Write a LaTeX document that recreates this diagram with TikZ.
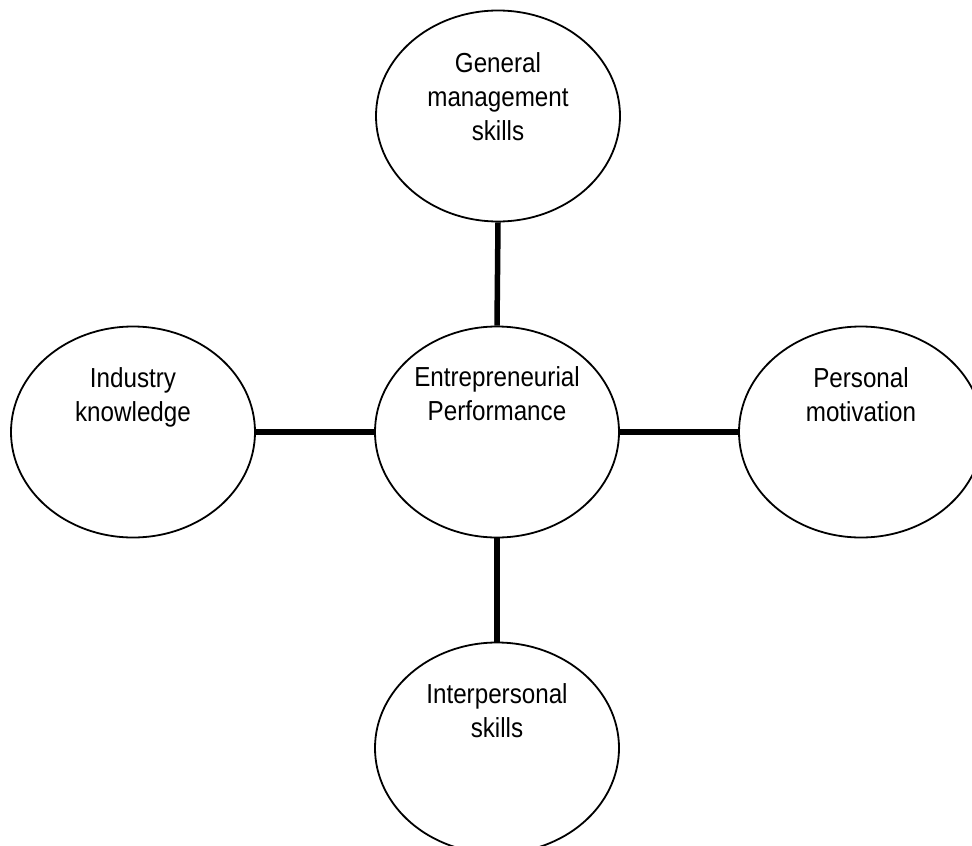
\documentclass[tikz,border=0pt]{standalone}
\usepackage{fontspec}
\setmainfont{Liberation Sans}[FakeStretch=0.88]
\usetikzlibrary{shapes.geometric}
\begin{document}
\begin{tikzpicture}[x=1pt,y=-1pt,
  bubble/.style={ellipse, draw, line width=1.8pt, minimum width=244pt, minimum height=211pt, inner sep=0pt},
  lbl/.style={anchor=north, align=center, inner sep=0pt, font=\fontsize{27.5}{34}\selectfont},
  link/.style={line width=5.5pt}]
\useasboundingbox (0,0) rectangle (972,846);
\node[bubble] (top) at (498,116) {};
\node[bubble] (ctr) at (497,432) {};
\node[bubble] (lft) at (133,432) {};
\node[bubble] (rgt) at (861,432) {};
\node[bubble] (bot) at (497,748) {};
\node[lbl] (topT) at (498,52) {General\\management\\skills};
\node[lbl] (ctrT) at (497,366.5) {Entrepreneurial\\Performance};
\node[lbl] (lftT) at (133,367) {Industry\\knowledge};
\node[lbl] (rgtT) at (861,367) {Personal\\motivation};
\node[lbl] (botT) at (497,683) {Interpersonal\\skills};
\draw[link] (top.south) -- (ctr.north);
\draw[link] (ctr.west) -- (lft.east);
\draw[link] (ctr.east) -- (rgt.west);
\draw[link] (ctr.south) -- (bot.north);
\end{tikzpicture}
\end{document}
